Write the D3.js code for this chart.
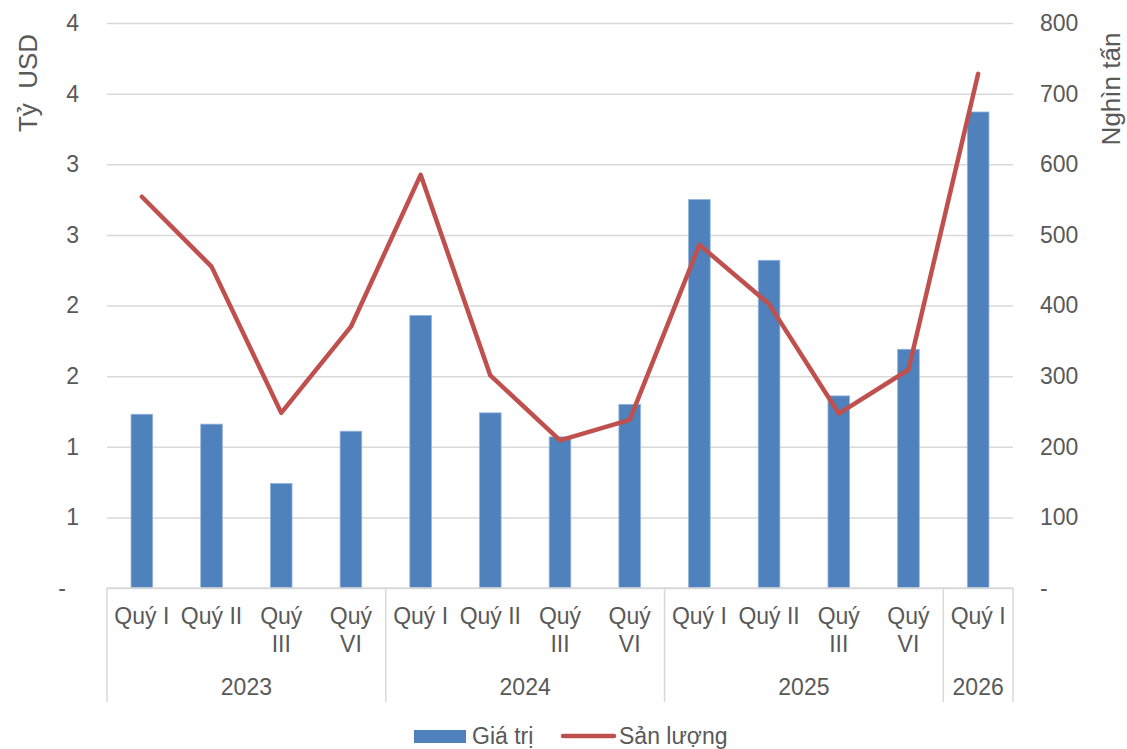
<!DOCTYPE html>
<html>
<head>
<meta charset="utf-8">
<script src="https://cdn.jsdelivr.net/npm/d3@7"></script>
<style>
  body { margin: 0; background: #fff; }
  svg text { font-family: "Liberation Sans", Arial, sans-serif; fill: #595959; }
  .title { white-space: pre; }
</style>
</head>
<body>
<svg id="chart" width="1127" height="749"></svg>
<script>
// Quarterly export value (billion USD, left axis) and volume (thousand tonnes, right axis)
const quarters = ["Quý I", "Quý II", "Quý III", "Quý VI",
                  "Quý I", "Quý II", "Quý III", "Quý VI",
                  "Quý I", "Quý II", "Quý III", "Quý VI",
                  "Quý I"];
const years = ["2023", "2023", "2023", "2023",
               "2024", "2024", "2024", "2024",
               "2025", "2025", "2025", "2025",
               "2026"];
const exportValue = [1.23, 1.16, 0.74, 1.11, 1.93, 1.24, 1.07, 1.30, 2.75, 2.32, 1.36, 1.69, 3.37];
const exportVolume = [554, 455, 248, 370, 585, 301, 209, 238, 486, 402, 247, 309, 728];

const leftTicks = [0, 0.5, 1, 1.5, 2, 2.5, 3, 3.5, 4];
const leftTickLabels = ["-", "1", "1", "2", "2", "3", "3", "4", "4"];
const rightTicks = [0, 100, 200, 300, 400, 500, 600, 700, 800];
const rightTickLabels = ["-", "100", "200", "300", "400", "500", "600", "700", "800"];

const seriesNames = ["Giá trị", "Sản lượng"];
const axisTitles = ["Tỷ  USD", "Nghìn tấn"];

const barColor = "#4F81BD";
const lineColor = "#C0504D";
const gridColor = "#D9D9D9";
const fontSize = 23;

const svg = d3.select("#chart");
const plot = { left: 107, right: 1013, top: 23, bottom: 588 };

const idx = d3.range(quarters.length);
const x = d3.scaleBand().domain(idx).range([plot.left, plot.right])
  .paddingInner(0.69).paddingOuter(0.345);
const yL = d3.scaleLinear().domain([0, 4]).range([plot.bottom, plot.top]);
const yR = d3.scaleLinear().domain([0, 800]).range([plot.bottom, plot.top]);
const cx = i => x(i) + x.bandwidth() / 2;
const cellEdge = i => cx(i) - x.step() / 2;

// horizontal gridlines
svg.append("g")
  .attr("transform", `translate(${plot.left},0)`)
  .call(d3.axisLeft(yL).tickValues(leftTicks).tickSize(-(plot.right - plot.left)).tickFormat(""))
  .call(g => g.select(".domain").remove())
  .call(g => g.selectAll("line").attr("stroke", gridColor).attr("stroke-width", 1.5));

// left value axis
svg.append("g")
  .attr("transform", `translate(${plot.left},0)`)
  .call(d3.axisLeft(yL).tickValues(leftTicks).tickSize(0).tickPadding(28)
    .tickFormat((d, i) => leftTickLabels[i]))
  .call(g => g.select(".domain").remove())
  .call(g => g.selectAll("text")
    .attr("font-size", fontSize)
    .attr("font-family", null)
    .attr("dx", (d, i) => leftTickLabels[i] === "-" ? -13 : 0));

// right volume axis
svg.append("g")
  .attr("transform", `translate(${plot.right},0)`)
  .call(d3.axisRight(yR).tickValues(rightTicks).tickSize(0).tickPadding(27)
    .tickFormat((d, i) => rightTickLabels[i]))
  .call(g => g.select(".domain").remove())
  .call(g => g.selectAll("text").attr("font-size", fontSize).attr("font-family", null));

// axis titles
svg.append("text")
  .attr("class", "title")
  .attr("transform", "translate(37,83) rotate(-90)")
  .attr("text-anchor", "middle")
  .attr("font-size", 26)
  .text(axisTitles[0]);
svg.append("text")
  .attr("class", "title")
  .attr("transform", "translate(1120,89) rotate(-90)")
  .attr("text-anchor", "middle")
  .attr("font-size", 26)
  .text(axisTitles[1]);

// bars
svg.append("g").selectAll("rect")
  .data(idx)
  .join("rect")
  .attr("x", i => x(i))
  .attr("y", i => yL(exportValue[i]))
  .attr("width", x.bandwidth())
  .attr("height", i => yL(0) - yL(exportValue[i]))
  .attr("fill", barColor)
  .attr("stroke", "#93B3DC")
  .attr("stroke-width", 0.8);

// volume line
svg.append("path")
  .datum(idx)
  .attr("fill", "none")
  .attr("stroke", lineColor)
  .attr("stroke-width", 4.5)
  .attr("stroke-linejoin", "round")
  .attr("stroke-linecap", "round")
  .attr("d", d3.line().x(i => cx(i)).y(i => yR(exportVolume[i])));

// category axis: baseline, year separators, labels
const axisG = svg.append("g");
axisG.append("line")
  .attr("x1", plot.left).attr("x2", plot.right)
  .attr("y1", plot.bottom).attr("y2", plot.bottom)
  .attr("stroke", gridColor).attr("stroke-width", 1.5);

const groups = [];
years.forEach((yr, i) => {
  const last = groups[groups.length - 1];
  if (last && last.year === yr) last.end = i;
  else groups.push({ year: yr, start: i, end: i });
});

const boundaries = groups.map(g => cellEdge(g.start)).concat([cellEdge(idx.length - 1) + x.step()]);
axisG.selectAll("line.sep")
  .data(boundaries)
  .join("line")
  .attr("class", "sep")
  .attr("x1", d => d).attr("x2", d => d)
  .attr("y1", plot.bottom).attr("y2", 702)
  .attr("stroke", gridColor).attr("stroke-width", 1.5);

const qLabels = axisG.selectAll("text.q")
  .data(idx)
  .join("text")
  .attr("class", "q")
  .attr("text-anchor", "middle")
  .attr("font-size", fontSize)
  .attr("x", i => cx(i))
  .attr("y", 624)
  .text(i => quarters[i]);

// wrap labels that are too wide for their cell
qLabels.each(function (i) {
  const t = d3.select(this);
  if (this.getComputedTextLength() > 64) {
    const words = quarters[i].split(" ");
    t.text(null);
    words.forEach((w, k) => {
      t.append("tspan").attr("x", cx(i)).attr("dy", k === 0 ? 0 : 28).text(w);
    });
  }
});

axisG.selectAll("text.yr")
  .data(groups)
  .join("text")
  .attr("class", "yr")
  .attr("text-anchor", "middle")
  .attr("font-size", fontSize)
  .attr("x", g => (cellEdge(g.start) + cellEdge(g.end) + x.step()) / 2)
  .attr("y", 695)
  .text(g => g.year);

// legend
const legend = svg.append("g");
legend.append("rect")
  .attr("x", 414).attr("y", 730).attr("width", 52).attr("height", 13)
  .attr("fill", barColor);
legend.append("text")
  .attr("x", 472).attr("y", 744).attr("font-size", fontSize)
  .text(seriesNames[0]);
legend.append("line")
  .attr("x1", 563).attr("x2", 614).attr("y1", 736).attr("y2", 736)
  .attr("stroke", lineColor).attr("stroke-width", 4.5).attr("stroke-linecap", "round");
legend.append("text")
  .attr("x", 619).attr("y", 744).attr("font-size", fontSize)
  .text(seriesNames[1]);
</script>
</body>
</html>
